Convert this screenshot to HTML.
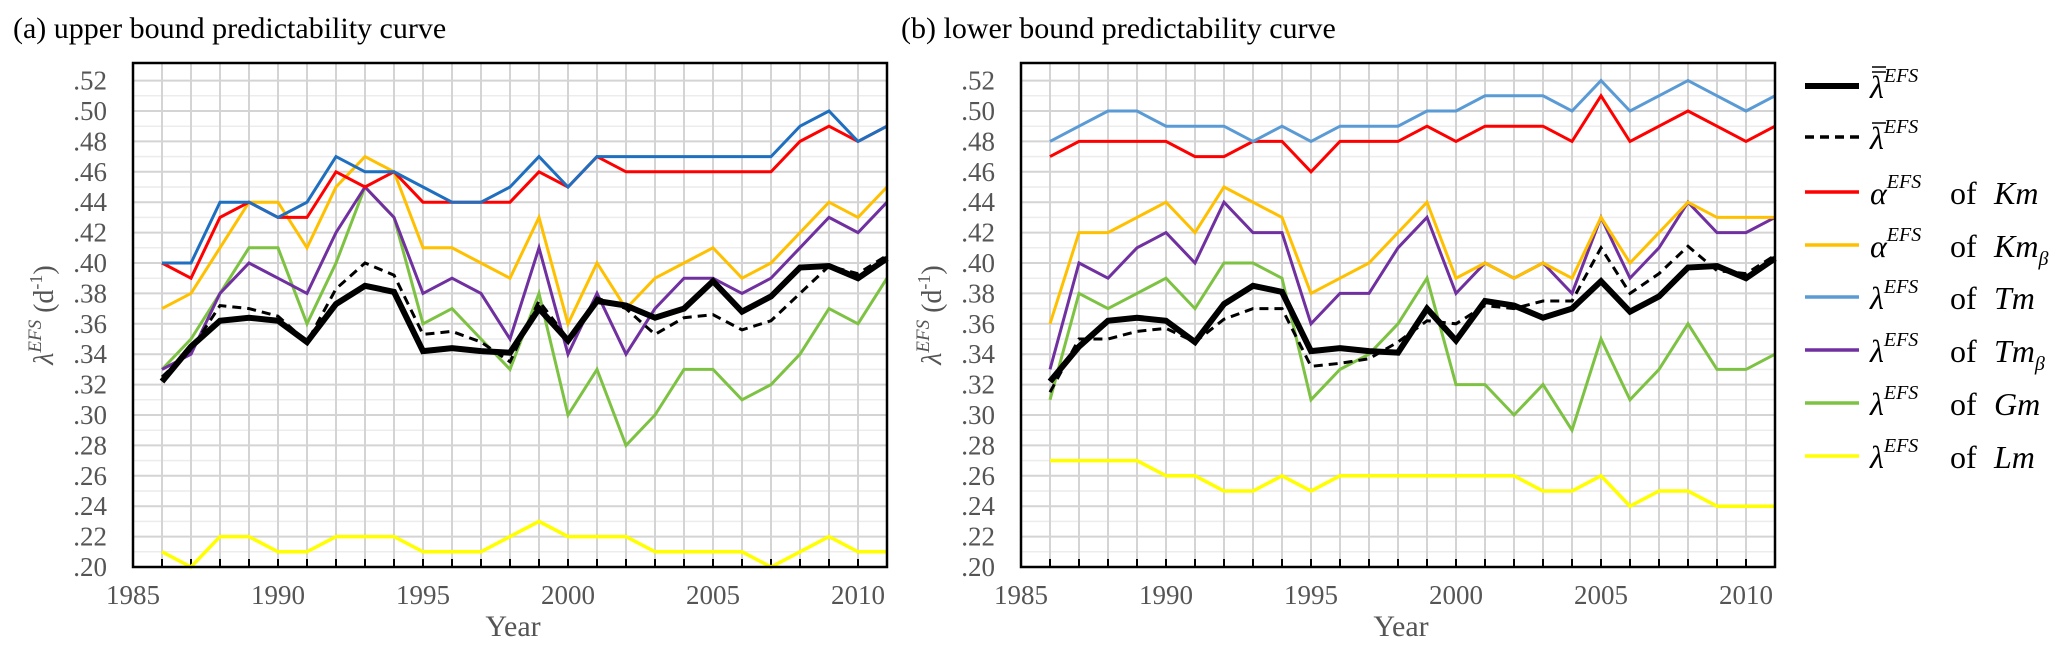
<!DOCTYPE html>
<html><head><meta charset="utf-8">
<style>
body{margin:0;background:#fff;width:2067px;height:656px;overflow:hidden;font-family:"Liberation Serif",serif;}
svg{position:absolute;left:0;top:0;}
</style></head>
<body>
<svg id="chart" width="2067" height="656" xmlns="http://www.w3.org/2000/svg"></svg>
<script>
const years=[1986,1987,1988,1989,1990,1991,1992,1993,1994,1995,1996,1997,1998,1999,2000,2001,2002,2003,2004,2005,2006,2007,2008,2009,2010,2011];
const xTicks=[1985,1990,1995,2000,2005,2010];
const yTicks=[.20,.22,.24,.26,.28,.30,.32,.34,.36,.38,.40,.42,.44,.46,.48,.50,.52];
const yTickLabels=[".20",".22",".24",".26",".28",".30",".32",".34",".36",".38",".40",".42",".44",".46",".48",".50",".52"];
// panel a
const aTm=[.40,.40,.44,.44,.43,.44,.47,.46,.46,.45,.44,.44,.45,.47,.45,.47,.47,.47,.47,.47,.47,.47,.49,.50,.48,.49];
const aKm=[.40,.39,.43,.44,.43,.43,.46,.45,.46,.44,.44,.44,.44,.46,.45,.47,.46,.46,.46,.46,.46,.46,.48,.49,.48,.49];
const aKmB=[.37,.38,.41,.44,.44,.41,.45,.47,.46,.41,.41,.40,.39,.43,.36,.40,.37,.39,.40,.41,.39,.40,.42,.44,.43,.45];
const aTmB=[.33,.34,.38,.40,.39,.38,.42,.45,.43,.38,.39,.38,.35,.41,.34,.38,.34,.37,.39,.39,.38,.39,.41,.43,.42,.44];
const aGm=[.33,.35,.38,.41,.41,.36,.40,.45,.43,.36,.37,.35,.33,.38,.30,.33,.28,.30,.33,.33,.31,.32,.34,.37,.36,.39];
const aLm=[.21,.20,.22,.22,.21,.21,.22,.22,.22,.21,.21,.21,.22,.23,.22,.22,.22,.21,.21,.21,.21,.20,.21,.22,.21,.21];
const aMean2=[.322,.345,.362,.364,.362,.348,.373,.385,.381,.342,.344,.342,.341,.370,.349,.375,.372,.364,.370,.388,.368,.378,.397,.398,.390,.403];
const aMean1=[.325,.343,.372,.370,.365,.348,.383,.400,.392,.353,.355,.348,.335,.375,.350,.377,.370,.353,.364,.366,.356,.362,.380,.398,.393,.405];
// panel b
const bTm=[.48,.49,.50,.50,.49,.49,.49,.48,.49,.48,.49,.49,.49,.50,.50,.51,.51,.51,.50,.52,.50,.51,.52,.51,.50,.51];
const bKm=[.47,.48,.48,.48,.48,.47,.47,.48,.48,.46,.48,.48,.48,.49,.48,.49,.49,.49,.48,.51,.48,.49,.50,.49,.48,.49];
const bKmB=[.36,.42,.42,.43,.44,.42,.45,.44,.43,.38,.39,.40,.42,.44,.39,.40,.39,.40,.39,.43,.40,.42,.44,.43,.43,.43];
const bTmB=[.33,.40,.39,.41,.42,.40,.44,.42,.42,.36,.38,.38,.41,.43,.38,.40,.39,.40,.38,.43,.39,.41,.44,.42,.42,.43];
const bGm=[.31,.38,.37,.38,.39,.37,.40,.40,.39,.31,.33,.34,.36,.39,.32,.32,.30,.32,.29,.35,.31,.33,.36,.33,.33,.34];
const bLm=[.27,.27,.27,.27,.26,.26,.25,.25,.26,.25,.26,.26,.26,.26,.26,.26,.26,.25,.25,.26,.24,.25,.25,.24,.24,.24];
const bMean2=[.322,.345,.362,.364,.362,.348,.373,.385,.381,.342,.344,.342,.341,.370,.349,.375,.372,.364,.370,.388,.368,.378,.397,.398,.390,.403];
const bMean1=[.315,.350,.350,.355,.357,.348,.363,.370,.370,.332,.334,.337,.348,.362,.360,.372,.370,.375,.375,.410,.380,.393,.411,.395,.393,.405];

const NS="http://www.w3.org/2000/svg";
const svg=document.getElementById('chart');
function mk(tag,attrs,parent){const e=document.createElementNS(NS,tag);for(const k in attrs)e.setAttribute(k,attrs[k]);(parent||svg).appendChild(e);return e;}

function panel(id,left,title,series){
  const right=left+754, top=63, bottom=567;
  const x=v=>left+(v-1985)*29;
  const y=v=>567-(v-0.20)/0.02*30.4;
  const g=mk('g',{});
  
  
  // minor horizontal grid
  for(let v=0.21;v<0.53;v+=0.02){const l=mk('line',{x1:left,x2:right,y1:y(v),y2:y(v),stroke:'#ececec','stroke-width':1.5},g);}
  for(let i=1;i<yTicks.length;i++){const l=mk('line',{x1:left,x2:right,y1:y(yTicks[i]),y2:y(yTicks[i]),stroke:'#d4d4d4','stroke-width':2},g);
    
    }
  years.forEach(yr=>{const l=mk('line',{x1:x(yr),x2:x(yr),y1:top,y2:bottom,stroke:'#d4d4d4','stroke-width':2},g);
    
    
    mk('line',{x1:x(yr),x2:x(yr),y1:bottom-8,y2:bottom,stroke:'#000','stroke-width':2},g);});
  // series
  series.forEach(s=>{
    const p=mk('polyline',{points:s.d.map((v,i)=>x(years[i])+','+y(v)).join(' '),fill:'none',stroke:s.c,'stroke-width':s.w,'stroke-linejoin':'miter'},g);
    if(s.dash)p.setAttribute('stroke-dasharray',s.dash);
    
    
  });
  const fr=mk('rect',{x:left,y:top,width:right-left,height:bottom-top,fill:'none',stroke:'#000','stroke-width':2.5},g);
  
  
  yTicks.forEach((v,i)=>{const t=mk('text',{x:left-26,y:y(v)+9,'text-anchor':'end','font-size':27,fill:'#555','font-family':'Liberation Serif, serif'},g);t.textContent=yTickLabels[i];
    
    });
  xTicks.forEach(v=>{const t=mk('text',{x:x(v),y:604,'text-anchor':'middle','font-size':27,fill:'#555','font-family':'Liberation Serif, serif'},g);t.textContent=v;
    
    });
  const xt=mk('text',{x:left+380,y:636,'text-anchor':'middle','font-size':30,fill:'#555','font-family':'Liberation Serif, serif'},g);xt.textContent='Year';
  
  
  const yt=mk('text',{transform:`translate(${left-80},315) rotate(-90)`,'text-anchor':'middle','font-size':28,fill:'#555','font-family':'Liberation Serif, serif'},g);
  yt.innerHTML='<tspan font-style="italic">λ</tspan><tspan font-style="italic" font-size="19" dy="-12">EFS</tspan><tspan dy="12">  (d</tspan><tspan font-size="18" dy="-11">-1</tspan><tspan dy="11">)</tspan>';
  
  
  const tt=mk('text',{x:left-120,y:38,'font-size':30,fill:'#000','font-family':'Liberation Serif, serif'},g);tt.textContent=title;
  
  
}
panel('panel-a-upper-bound',133,'(a) upper bound predictability curve',[
 {n:'line-lm',d:aLm,c:'#ffff00',w:3.5},{n:'line-gm',d:aGm,c:'#7dc242',w:3},{n:'line-tmb',d:aTmB,c:'#7030a0',w:3},
 {n:'line-kmb',d:aKmB,c:'#ffc000',w:3},{n:'line-km',d:aKm,c:'#ff0000',w:3},{n:'line-tm',d:aTm,c:'#1f6fc0',w:3},
 {n:'line-mean-single',d:aMean1,c:'#000',w:3,dash:'9,6'},{n:'line-mean-double',d:aMean2,c:'#000',w:6}]);
panel('panel-b-lower-bound',1021,'(b) lower bound predictability curve',[
 {n:'line-lm',d:bLm,c:'#ffff00',w:3.5},{n:'line-gm',d:bGm,c:'#7dc242',w:3},{n:'line-tmb',d:bTmB,c:'#7030a0',w:3},
 {n:'line-kmb',d:bKmB,c:'#ffc000',w:3},{n:'line-km',d:bKm,c:'#ff0000',w:3},{n:'line-tm',d:bTm,c:'#5b9bd5',w:3},
 {n:'line-mean-single',d:bMean1,c:'#000',w:3,dash:'9,6'},{n:'line-mean-double',d:bMean2,c:'#000',w:6}]);

// legend
const legendY=[86,137,192,245,297,350,403,456];
const legendColor=['#000','#000','#ff0000','#ffc000','#5b9bd5','#7030a0','#7dc242','#ffff00'];
const legendSym=['λ','λ','α','α','λ','λ','λ','λ'];
const legendModel=['','','Km','Km','Tm','Tm','Gm','Lm'];
const legendSub=['','','','β','','β','',''];
const lg=mk('g',{});


legendY.forEach((ly,i)=>{
  const l=mk('line',{x1:1805,x2:1859,y1:ly,y2:ly,stroke:legendColor[i],'stroke-width':i==0?6:3.5},lg);
  if(i==1)l.setAttribute('stroke-dasharray','9,6');
  
  
  const t=mk('text',{x:1870,y:ly+12,'font-size':32,fill:'#000','font-family':'Liberation Serif, serif'},lg);
  let h='<tspan font-style="italic">'+legendSym[i]+'</tspan><tspan font-style="italic" font-size="20" dy="-16">EFS</tspan>';
  if(legendModel[i]) h+='<tspan x="1950" dy="16">of</tspan><tspan x="1994" font-style="italic">'+legendModel[i]+'</tspan>'+(legendSub[i]?'<tspan font-style="italic" font-size="20" dy="8">β</tspan>':'');
  t.innerHTML=h;
  
  
  if(i<2){const b=mk('line',{x1:1872,x2:1886,y1:ly-14,y2:ly-14,stroke:'#000','stroke-width':1.5},lg);
    if(i==0)mk('line',{x1:1872,x2:1886,y1:ly-19,y2:ly-19,stroke:'#000','stroke-width':1.5},lg);}
});
</script>
</body></html>
